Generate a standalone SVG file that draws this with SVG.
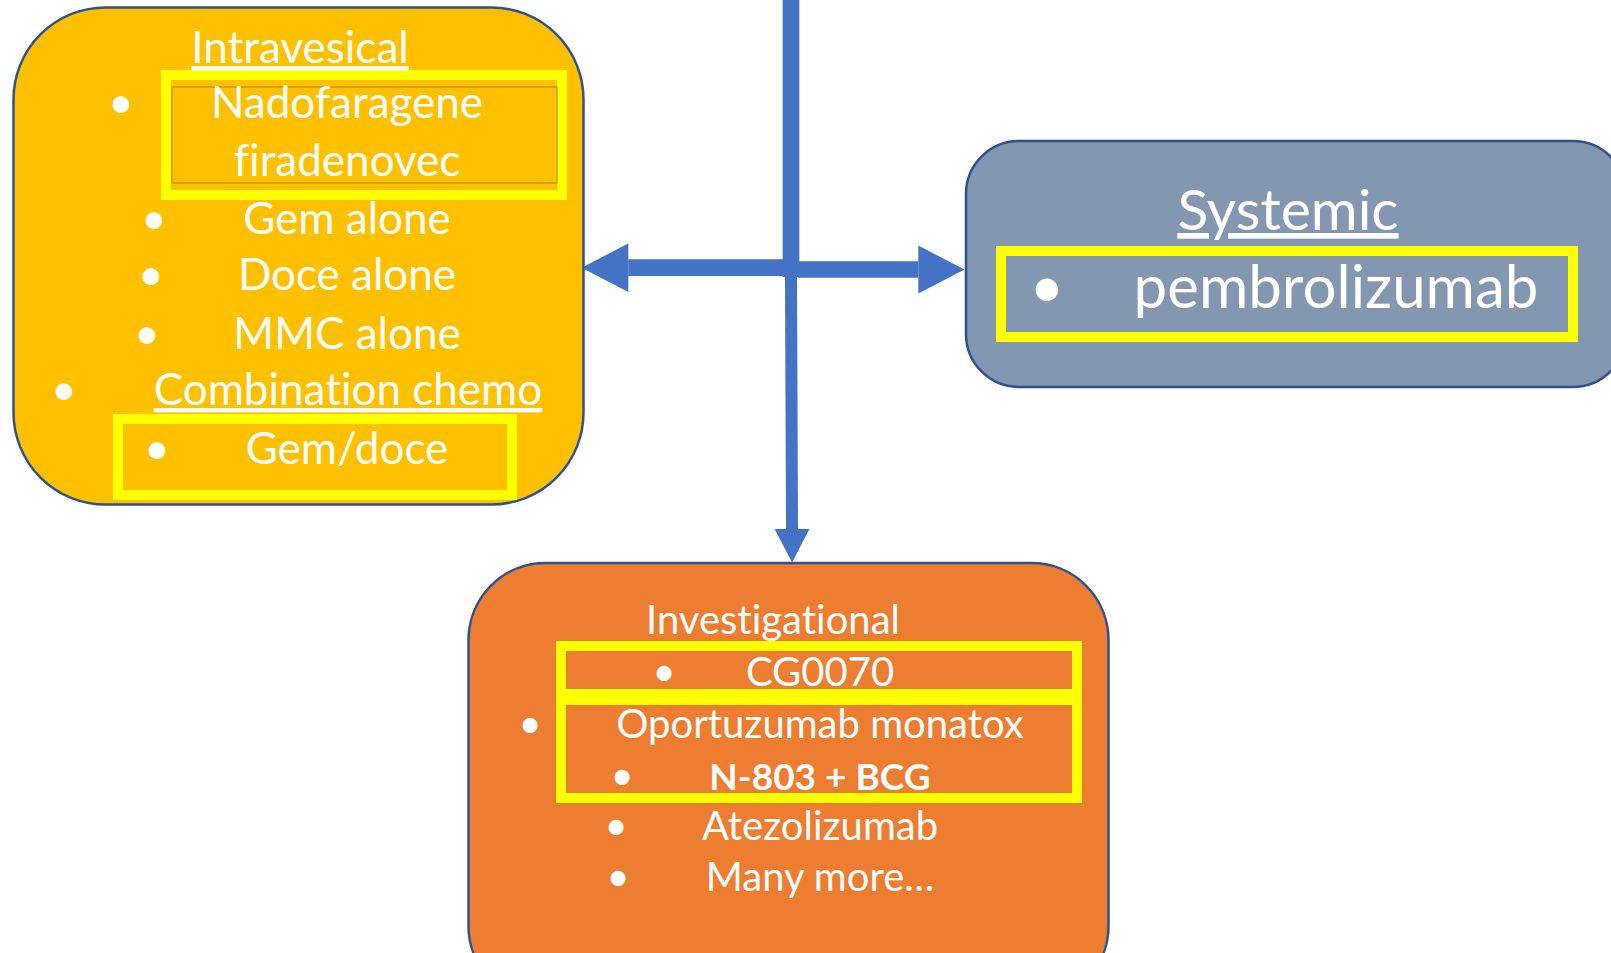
<svg xmlns="http://www.w3.org/2000/svg" width="1611" height="953" viewBox="0 0 1611 953">
<defs>
<marker id="ah" markerUnits="strokeWidth" markerWidth="2.8" markerHeight="2.9" refX="0" refY="1.45" orient="auto" overflow="visible">
<path d="M0,0 L2.8,1.45 L0,2.9 Z" fill="#4472C4"/>
</marker>
</defs>
<style>
.box{stroke:#2F528F;stroke-width:2.5}
.hl{fill:none;stroke:#FFFF00;stroke-width:10}
.t{font-family:Lato,"Open Sans",sans-serif;fill:#FFFFFF;text-anchor:middle;font-variant-ligatures:none;font-feature-settings:"liga" 0,"clig" 0}
.l{font-size:44px}
.s{font-size:40px}
.m{font-size:57px}
.p{font-size:60px}
.u{text-decoration:underline}
.b{font-weight:bold;font-size:37px}
.c{fill:none;stroke:#4472C4}
</style>
<g id="connectors">
<line class="c" x1="791" y1="0" x2="791" y2="277" stroke-width="16.7"/>
<line class="c" x1="785" y1="267.7" x2="628.3" y2="267.7" stroke-width="16.7" marker-end="url(#ah)"/>
<line class="c" x1="798" y1="269.5" x2="918.3" y2="269.5" stroke-width="16.5" marker-end="url(#ah)"/>
<line class="c" x1="791" y1="276" x2="792" y2="529" stroke-width="12" marker-end="url(#ah)"/>
</g>
<g id="intravesical">
<rect class="box" x="13.5" y="7.5" width="570" height="497" rx="92" fill="#FFC000"/>
<rect class="hl" x="166" y="75" width="396" height="120"/>
<rect x="172" y="87" width="385" height="96" fill="none" stroke="#BF9000" stroke-width="1.2"/>
<rect class="hl" x="118" y="419" width="394" height="76"/>
<text class="t l u" x="300" y="63">Intravesical</text>
<text class="t l" x="121" y="118">•</text>
<text class="t l" x="347" y="118">Nadofaragene</text>
<text class="t l" x="347" y="176">firadenovec</text>
<text class="t l" x="154" y="234">•</text>
<text class="t l" x="347" y="234">Gem alone</text>
<text class="t l" x="151" y="290">•</text>
<text class="t l" x="347" y="290">Doce alone</text>
<text class="t l" x="147" y="349">•</text>
<text class="t l" x="347" y="349">MMC alone</text>
<text class="t l" x="64" y="405">•</text>
<text class="t l u" x="348" y="405">Combination chemo</text>
<text class="t l" x="157" y="464">•</text>
<text class="t l" x="347" y="464">Gem/doce</text>
</g>
<g id="systemic">
<rect class="box" x="966" y="141" width="660" height="246" rx="53" fill="#8497B0"/>
<rect class="hl" x="1001" y="251" width="572" height="86"/>
<text class="t m u" x="1288" y="230">Systemic</text>
<text class="t p" x="1047" y="308">•</text>
<text class="t p" x="1336" y="308">pembrolizumab</text>
</g>
<g id="investigational">
<rect class="box" x="468.5" y="563" width="640" height="440" rx="77" fill="#ED7D31"/>
<rect class="hl" x="561" y="646" width="516" height="48"/>
<rect class="hl" x="561" y="700" width="516" height="98"/>
<text class="t s" x="773" y="634">Investigational</text>
<text class="t s" x="664" y="686">•</text>
<text class="t s" x="820" y="686">CG0070</text>
<text class="t s" x="530" y="738">•</text>
<text class="t s" x="820" y="738">Oportuzumab monatox</text>
<text class="t s" x="622" y="790">•</text>
<text class="t s b" x="820" y="790">N-803 + BCG</text>
<text class="t s" x="616" y="840">•</text>
<text class="t s" x="820" y="840">Atezolizumab</text>
<text class="t s" x="618" y="891">•</text>
<text class="t s" x="820" y="891">Many more…</text>
</g>
</svg>
